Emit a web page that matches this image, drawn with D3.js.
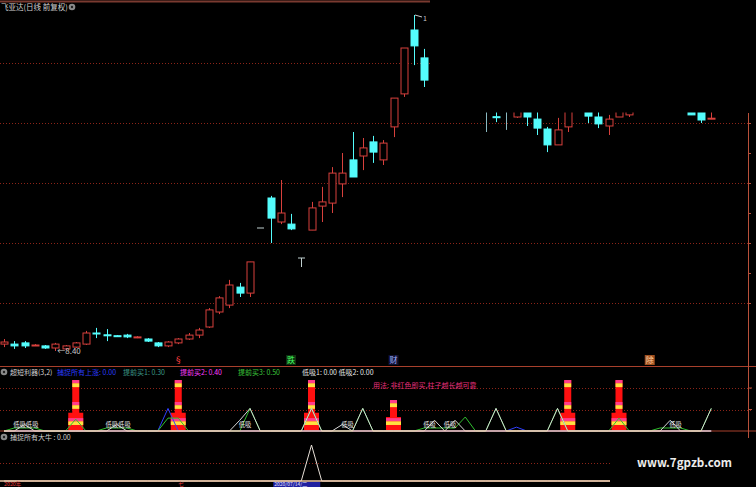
<!DOCTYPE html>
<html><head><meta charset="utf-8">
<script src="https://cdn.jsdelivr.net/npm/d3@7"></script>
<style>html,body{margin:0;padding:0;background:#000;overflow:hidden}svg{display:block}text{font-family:"Noto Sans CJK SC","Noto Sans",sans-serif}</style>
</head><body><svg id="c" width="756" height="487"></svg>
<script>
// ---------- data ----------
const opens  = [8.63,8.63,8.67,8.58,8.57,8.50,8.47,8.53,8.63,9.00,8.94,8.91,8.93,8.86,8.80,8.67,8.57,8.67,8.80,8.93,9.20,9.70,9.93,10.53,10.33,12.50,13.50,12.70,12.63,11.50,12.43,13.23,13.33,13.97,14.77,14.90,15.37,14.77,15.87,16.97,19.10,18.17,null,null,null,null,null,16.40,16.21,16.40,16.20,16.40,16.13,15.80,15.27,15.87,null,16.40,16.20,15.90,16.20,16.27,null,null,null,null,null,16.40,16.40,16.15];
const highs  = [8.80,8.73,8.73,8.63,8.60,8.67,8.60,8.70,9.07,9.17,9.13,8.93,8.97,8.90,8.83,8.70,8.73,8.83,9.00,9.17,9.83,10.23,10.77,10.67,11.37,12.50,13.57,14.10,12.97,11.50,13.37,13.87,14.53,15.00,15.70,15.50,15.57,15.43,16.83,18.50,19.60,18.47,null,null,null,null,null,16.40,16.40,16.40,16.40,16.40,16.40,15.87,16.17,16.40,null,16.40,16.40,16.27,16.40,16.40,null,null,null,null,null,16.40,16.40,16.40];
const lows   = [8.53,8.47,8.50,8.57,8.47,8.40,8.43,8.50,8.60,8.83,8.73,8.87,8.83,8.83,8.70,8.53,8.53,8.63,8.77,8.83,9.17,9.63,9.83,10.20,10.20,12.50,12.00,12.63,12.43,11.20,12.43,12.70,13.00,13.53,14.20,14.43,14.67,14.60,15.53,16.87,17.93,17.20,null,null,null,null,null,15.70,16.03,15.77,16.17,15.90,15.60,15.03,15.27,15.70,null,16.00,15.83,15.60,16.20,16.20,null,null,null,null,null,16.27,16.00,16.13];
const closes = [8.70,8.57,8.57,8.60,8.50,8.63,8.57,8.67,9.00,8.98,8.93,8.89,8.87,8.87,8.73,8.57,8.70,8.80,8.93,9.10,9.77,10.17,10.60,10.33,11.37,12.50,12.83,13.00,12.47,11.50,13.17,13.37,14.33,14.33,14.20,15.17,15.03,15.33,16.83,18.50,18.57,17.43,null,null,null,null,null,16.40,16.20,16.40,16.45,16.20,15.83,15.27,15.77,16.45,null,16.23,15.97,16.13,16.45,16.45,null,null,null,null,null,16.27,16.10,16.16];
const priceGrid = [10,12,14,16,18];
const priceTicks = [10,11,12,13,14,15,16];
const lowLabel = "8.40", highLabel = "1";

// indicator panel 1 (超短利器)
const towerTop  = [0,0,0,0,0,0,0,2.37,0,0,0,0,0,0,0,0,0,2.37,0,0,0,0,0,0,0,0,0,0,0,0,2.37,0,0,0,0,0,0,0,1.44,0,0,0,0,0,0,0,0,0,0,0,0,0,0,0,0,2.37,0,0,0,0,2.37,0,0,0,0,0,0,0,0,0];
const greenLine = [0,.14,.14,.14,0,0,0,.55,0,0,.14,.14,.14,0,0,0,.6,.6,0,0,0,0,0,0,1.05,0,0,0,0,0,1.05,0,0,0,0,1.05,0,0,0,0,0,.14,.14,.14,.14,.65,0,0,1.05,0,0,0,0,0,1.05,0,0,0,0,0,.6,0,0,0,.14,.14,.14,0,0,1.05];
const whiteLine = [0,0,.3,0,0,0,0,0,0,0,0,.3,0,0,0,0,0,0,0,0,0,0,0,.5,1.05,0,0,0,0,0,1.05,0,0,.3,0,1.05,0,0,0,0,0,0,.5,0,.5,0,0,0,1.05,0,0,0,0,0,1.05,0,0,0,0,0,0,0,0,0,0,.5,0,0,0,1.05];
const blueLine  = [0,0,0,0,0,0,0,0,0,0,0,0,0,0,0,0,1.05,0,0,0,0,0,0,0,0,0,0,0,0,0,0,0,0,0,0,0,0,0,0,0,0,0,0,0,0,0,0,0,0,0,.18,0,0,0,0,0,0,0,0,0,0,0,0,0,0,0,0,0,0,0];
const dipLabels = [[1,"低吸低吸"],[10,"低吸低吸"],[23,"低吸"],[33,"低吸"],[41,"低吸"],[43,"低吸"],[65,"低吸"]];
// indicator panel 2 (捕捉所有大牛)
const bigBull = [0,0,0,0,0,0,0,0,0,0,0,0,0,0,0,0,0,0,0,0,0,0,0,0,0,0,0,0,0,0,2,0,0,0,0,0,0,0,0,0,0,0,0,0,0,0,0,0,0,0,0,0,0,0,0,0,0,0,0,0,0,0,0,0,0,0,0,0,0,0];

const titleMain = "飞亚达(日线 前复权)";
const ind1Name = "超短利器(3,2)";
const ind1Legend = [["捕捉所有上涨: 0.00","#2a3cff"],["提前买1: 0.30","#3c9a8a"],["提前买2: 0.40","#ff3cff"],["提前买3: 0.50","#3cc83c"],["低吸1: 0.00  低吸2: 0.00","#e6e6e6"]];
const usage = "用法: 非红色即买,柱子越长越可靠";
const ind2Title = "捕捉所有大牛 : 0.00";
const events = [[17,"§","#ff4040","none"],[28,"跌","#40ff60","#103010"],[38,"财","#a0b0ff","#101030"],[63,"除","#ffd0a0","#a05020"]];
const dateLabels = [[0,"2020年","#e03c3c"],[17,"七","#e03c3c"]];
const cursorDate = "2020/07/14/二";

// ---------- drawing ----------
const svg = d3.select('#c');
const N = opens.length;
const x = d3.scaleLinear().domain([0, N-1]).range([4, 711.25]);
const y = d3.scaleLinear().domain([10, 18]).range([303, 63]);
const y1 = d3.scaleLinear().domain([0, 2]).range([431, 388]);
const y2 = d3.scaleLinear().domain([0, 2]).range([481, 445]);
const RED = "#d8403c", CYAN = "#54fcfc", GRID = "#8c2418";

// top border
svg.append('line').attr('x1',0).attr('x2',756).attr('y1',1.5).attr('y2',1.5).attr('stroke','#7a3a30').attr('stroke-width',2);

// grids
svg.append('g').selectAll('line').data(priceGrid).join('line')
  .attr('x1',0).attr('x2',752).attr('y1',d=>Math.round(y(d))+.5).attr('y2',d=>Math.round(y(d))+.5)
  .attr('stroke',GRID).attr('stroke-dasharray','1,2');
[1,2].forEach(v=>svg.append('line').attr('x1',0).attr('x2',752).attr('y1',Math.round(y1(v))+.5).attr('y2',Math.round(y1(v))+.5).attr('stroke',GRID).attr('stroke-dasharray','1,2'));
svg.append('line').attr('x1',0).attr('x2',752).attr('y1',Math.round(y2(1))+.5).attr('y2',Math.round(y2(1))+.5).attr('stroke',GRID).attr('stroke-dasharray','1,2');

// panel separators
svg.append('line').attr('x1',0).attr('x2',756).attr('y1',366.5).attr('y2',366.5).attr('stroke','#a8402c');
svg.append('line').attr('x1',0).attr('x2',756).attr('y1',431).attr('y2',431).attr('stroke','#a8402c');

// right axis
const ax = svg.append('g').attr('transform','translate(748,0)').call(d3.axisRight(y).tickValues(priceTicks).tickSize(3).tickFormat(''));
ax.select('.domain').remove();
ax.selectAll('line').attr('stroke','#b8503a');
svg.append('line').attr('x1',748.5).attr('x2',748.5).attr('y1',113).attr('y2',438).attr('stroke','#b8503a');
[y1(1),y1(2)].forEach(v=>svg.append('line').attr('x1',748).attr('x2',752).attr('y1',v).attr('y2',v).attr('stroke','#b8503a'));

// candles
const idx = d3.range(N).filter(i=>opens[i]!==null);
const cg = svg.append('g');
idx.forEach(i=>{
  const o=opens[i],c=closes[i],h=highs[i],l=lows[i];
  const cx = Math.round(x(i))+.5;
  let col = c>o ? RED : (c<o ? CYAN : "#c0d0d0");
  if (i>=47 && c===o) col = "#8ab8c0";
  cg.append('line').attr('x1',cx).attr('x2',cx).attr('y1',y(h)).attr('y2',y(l)).attr('stroke',col);
  const top = y(Math.max(o,c)), bot = y(Math.min(o,c));
  if (c===o) {
    cg.append('line').attr('x1',cx-3.5).attr('x2',cx+3.5).attr('y1',top).attr('y2',top).attr('stroke',col);
  } else if (c>o) {
    cg.append('rect').attr('x',cx-3.5).attr('y',top).attr('width',7).attr('height',Math.max(1,bot-top)).attr('fill','#000').attr('stroke',col);
  } else {
    cg.append('rect').attr('x',cx-3.5).attr('y',top).attr('width',7).attr('height',Math.max(1,bot-top)).attr('fill',col).attr('stroke',col);
  }
});
// low / high labels
const li = lows.indexOf(d3.min(lows.filter(v=>v!==null)));
svg.append('text').attr('x',x(li)+2).attr('y',y(8.40)+3).attr('fill','#c8c8c8').attr('font-size',8).attr('font-family','Liberation Sans').text('←'+lowLabel);
const hi = highs.indexOf(d3.max(highs.filter(v=>v!==null)));
svg.append('line').attr('x1',x(hi)+1).attr('y1',y(19.60)).attr('x2',x(hi)+8).attr('y2',y(19.60)+2).attr('stroke','#c8c8c8');
svg.append('text').attr('x',x(hi)+9).attr('y',y(19.60)+6).attr('fill','#c8c8c8').attr('font-size',7).attr('font-family','Liberation Sans').text(highLabel);

// black mask top-right (edited screenshot)
svg.append('rect').attr('x',430).attr('y',0).attr('width',326).attr('height',112.5).attr('fill','#000');

// event markers
events.forEach(([i,t,c,bg])=>{
  if(bg!=="none") svg.append('rect').attr('x',x(i)-5).attr('y',355).attr('width',10).attr('height',10).attr('fill',bg);
  svg.append('text').attr('x',x(i)).attr('y',363).attr('text-anchor','middle').attr('fill',c).attr('font-size',8).text(t);
});

// title main
svg.append('text').attr('x',1).attr('y',10).attr('fill','#d0d0d0').attr('font-size',7.5).text(titleMain);
function gear(cx,cy){svg.append('circle').attr('cx',cx).attr('cy',cy).attr('r',3.3).attr('fill','#8a8a8a');svg.append('circle').attr('cx',cx).attr('cy',cy).attr('r',1.2).attr('fill','#222');}
gear(72,7);

// panel 1
gear(4,372);
svg.append('text').attr('x',10).attr('y',375).attr('fill','#d0d0d0').attr('font-size',7).text(ind1Name);
const legX=[57,123,180,238,302];
ind1Legend.forEach(([t,c],k)=>svg.append('text').attr('x',legX[k]).attr('y',375).attr('fill',c).attr('font-size',7).text(t));
svg.append('text').attr('x',373).attr('y',388).attr('fill','#e8307c').attr('font-size',7).text(usage);

// towers
const tg = svg.append('g');
towerTop.forEach((v,i)=>{
  if(!v) return;
  const cx = x(i);
  const band=(x0,w,a,b,col)=>tg.append('rect').attr('x',cx-w/2).attr('width',w).attr('y',y1(b)).attr('height',y1(a)-y1(b)).attr('fill',col);
  band(0,7,0,v,'#ff1010');
  band(0,7,v-0.15,v,'#ff3c8c');
  band(0,7,v-0.33,v-0.15,'#ffe040');
  if (v>1.6){ band(0,7,1.2,1.35,'#ff3c8c'); band(0,7,1.03,1.2,'#ffe040'); }
  const bt = v>1.6 ? 0.85 : 0.65;
  band(0,15,0,bt,'#ff1010');
  band(0,15,0.45,0.6,'#ff3c8c');
  band(0,15,0.28,0.45,'#ffe040');
});

// lines
const line1 = d3.line().x((d,i)=>x(i)).y(d=>y1(d));
svg.append('path').datum(blueLine).attr('d',line1).attr('fill','none').attr('stroke','#3040ff').attr('stroke-width',1);
svg.append('path').datum(greenLine).attr('d',line1).attr('fill','none').attr('stroke','#30c030').attr('stroke-width',1);
svg.append('path').datum(whiteLine).attr('d',line1).attr('fill','none').attr('stroke','#d8d8d8').attr('stroke-width',1);
svg.append('line').attr('x1',x(0)).attr('x2',x(N-1)).attr('y1',431).attr('y2',431).attr('stroke','#f0c8b0').attr('stroke-width',1.6);
dipLabels.forEach(([i,t])=>svg.append('text').attr('x',x(i)-1).attr('y',427).attr('fill','#e8e8e8').attr('font-size',6.3).text(t));

// panel 2
gear(4,437);
svg.append('text').attr('x',10).attr('y',440).attr('fill','#d0d0d0').attr('font-size',7).text(ind2Title);
const line2 = d3.line().x((d,i)=>x(i)).y(d=>y2(d));
svg.append('path').datum(bigBull).attr('d',line2).attr('fill','none').attr('stroke','#e8e0d8').attr('stroke-width',1);
svg.append('line').attr('x1',0).attr('x2',x(N-1)).attr('y1',481).attr('y2',481).attr('stroke','#f0c8a8').attr('stroke-width',1.6);

// date axis
dateLabels.forEach(([i,t,c])=>svg.append('text').attr('x',Math.max(4,x(i))).attr('y',486).attr('fill',c).attr('font-size',5.3).text(t));
svg.append('rect').attr('x',x(29)-28).attr('y',482).attr('width',47).attr('height',5).attr('fill','#2020a0');
svg.append('text').attr('x',x(29)-27).attr('y',485.8).attr('fill','#e0e0ff').attr('font-size',5).attr('font-family','Liberation Sans').text(cursorDate);

// bottom-right mask + watermark
svg.append('rect').attr('x',610).attr('y',438).attr('width',146).attr('height',49).attr('fill','#000');
svg.append('text').attr('x',637).attr('y',467).attr('fill','#ececec').attr('font-size',11.6).attr('font-weight','bold').attr('font-family','Liberation Sans').text('www.7gpzb.com');
</script></body></html>
